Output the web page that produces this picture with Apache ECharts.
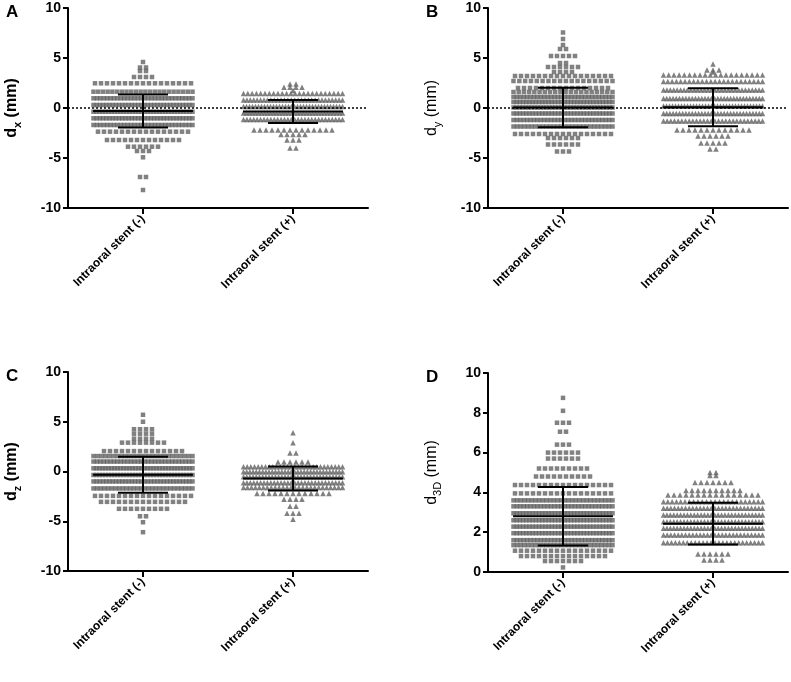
<!DOCTYPE html>
<html>
<head>
<meta charset="utf-8">
<script src="https://cdn.jsdelivr.net/npm/echarts@6/dist/echarts.min.js"></script>
<style>html,body{margin:0;padding:0;background:#fff}</style>
</head>
<body>
<div id="main" style="width:791px;height:682px"></div>
<script>
// groups on every x axis
var groups = ['Intraoral stent (-)', 'Intraoral stent (+)'];

// each group is drawn as rows of points: row value (mm) and number of points in the row
// A: d_x
var aMinusY = [4.6, 4.05, 3.7, 3.1, 2.47, 1.63, 0.97, 0.3, -0.37, -1.03, -1.7, -2.37, -3.2, -3.87, -4.3, -4.93, -6.9, -8.2];
var aMinusN = [1, 2, 2, 4, 17, 22, 30, 32, 34, 32, 30, 16, 13, 6, 3, 1, 2, 1];
var aPlusY = [2.4, 2.07, 1.75, 1.45, 0.8, 0.15, -0.5, -1.15, -2.2, -2.65, -3.2, -4.0];
var aPlusN = [2, 4, 1, 24, 30, 34, 34, 30, 14, 5, 3, 2];
// B: d_y
var bMinusY = [7.55, 6.9, 6.3, 5.9, 5.2, 4.5, 4.1, 3.6, 3.2, 2.7, 2.0, 1.6, 1.1, 0.6, 0.05, -0.55, -1.2, -1.85, -2.6, -3.0, -3.65, -4.35];
var bMinusN = [1, 1, 1, 2, 5, 2, 6, 4, 17, 18, 16, 20, 30, 32, 34, 32, 30, 28, 17, 6, 6, 3];
var bPlusY = [4.4, 3.8, 3.6, 3.3, 2.65, 1.8, 0.95, 0.2, -0.55, -1.3, -2.2, -2.8, -3.5, -4.1];
var bPlusN = [1, 3, 1, 20, 24, 30, 32, 34, 32, 28, 13, 6, 5, 2];
// C: d_z
var cMinusY = [5.7, 5.0, 4.25, 3.8, 3.3, 2.9, 2.05, 1.55, 1.0, 0.32, -0.35, -1.0, -1.7, -2.45, -3.05, -3.75, -4.5, -5.1, -6.1];
var cMinusN = [1, 1, 4, 4, 4, 8, 14, 26, 30, 34, 34, 32, 28, 17, 15, 9, 2, 1, 1];
var cPlusY = [3.9, 2.9, 1.85, 0.95, 0.48, -0.02, -0.52, -1.12, -1.6, -2.2, -2.8, -3.5, -4.2, -4.8];
var cPlusN = [1, 1, 2, 6, 28, 32, 32, 30, 26, 13, 4, 2, 3, 1];
// D: d_3D
var dMinusY = [8.75, 8.1, 7.5, 7.05, 6.4, 6.0, 5.7, 5.2, 4.8, 4.37, 3.95, 3.6, 3.3, 2.95, 2.6, 2.28, 1.95, 1.6, 1.35, 1.07, 0.8, 0.55, 0.23];
var dMinusN = [1, 1, 3, 2, 3, 6, 6, 9, 10, 17, 17, 28, 30, 32, 32, 32, 32, 30, 28, 17, 15, 7, 1];
var dPlusY = [5.0, 4.85, 4.5, 4.1, 3.87, 3.53, 3.2, 2.86, 2.53, 2.2, 1.86, 1.47, 0.9, 0.6];
var dPlusN = [2, 2, 7, 10, 16, 24, 28, 30, 30, 30, 28, 26, 6, 4];

// mean and SD bars: [stent (-), stent (+)]
var aMean = [-0.3, -0.35], aSd = [1.65, 1.15];
var bMean = [0.05, 0.07], bSd = [1.97, 1.9];
var cMean = [-0.33, -0.7], cSd = [1.8, 1.2];
var dMean = [2.8, 2.43], dSd = [1.47, 1.05];

var dotColor = '#626262';
var font = 'Arial, "Liberation Sans", sans-serif';

// lay out each row side by side around the group centre
function swarm(ys, ns, centre) {
  var pts = [];
  for (var r = 0; r < ys.length; r++) {
    var n = ns[r];
    var step = n > 1 ? Math.min(0.04, 0.66 / (n - 1)) : 0;
    for (var i = 0; i < n; i++) {
      pts.push([centre + (i - (n - 1) / 2) * step, ys[r]]);
    }
  }
  return pts;
}

function errorBars(params, api) {
  var x = api.value(0), m = api.value(1), sd = api.value(2);
  var c = api.coord([x, m]);
  var hi = api.coord([x, m + sd]);
  var lo = api.coord([x, m - sd]);
  var mw = api.size([0.333, 0])[0];
  var cw = api.size([0.167, 0])[0];
  var st = {stroke: '#000', lineWidth: 2};
  return {
    type: 'group',
    children: [
      {type: 'line', shape: {x1: c[0] - mw, y1: c[1], x2: c[0] + mw, y2: c[1]}, style: st},
      {type: 'line', shape: {x1: c[0] - cw, y1: hi[1], x2: c[0] + cw, y2: hi[1]}, style: st},
      {type: 'line', shape: {x1: c[0] - cw, y1: lo[1], x2: c[0] + cw, y2: lo[1]}, style: st},
      {type: 'line', shape: {x1: c[0], y1: hi[1], x2: c[0], y2: lo[1]}, style: st}
    ]
  };
}

var panels = [
  {letter: 'A', sub: 'x', bold: true, minus: [aMinusY, aMinusN], plus: [aPlusY, aPlusN], mean: aMean, sd: aSd, min: -10, max: 10, step: 5, zero: true,
   grid: {left: 68, top: 8, width: 300, height: 200}},
  {letter: 'B', sub: 'y', bold: false, minus: [bMinusY, bMinusN], plus: [bPlusY, bPlusN], mean: bMean, sd: bSd, min: -10, max: 10, step: 5, zero: true,
   grid: {left: 488, top: 8, width: 300, height: 200}},
  {letter: 'C', sub: 'z', bold: true, minus: [cMinusY, cMinusN], plus: [cPlusY, cPlusN], mean: cMean, sd: cSd, min: -10, max: 10, step: 5, zero: false,
   grid: {left: 68, top: 372, width: 300, height: 199}},
  {letter: 'D', sub: '3D', bold: false, minus: [dMinusY, dMinusN], plus: [dPlusY, dPlusN], mean: dMean, sd: dSd, min: 0, max: 10, step: 2, zero: false,
   grid: {left: 488, top: 373, width: 300, height: 199}}
];

var grid = [], xAxis = [], yAxis = [], series = [], title = [];

panels.forEach(function (p, k) {
  grid.push(p.grid);
  title.push({
    text: p.letter, left: p.grid.left - 67, top: p.grid.top - 9,
    textStyle: {fontFamily: font, fontWeight: 'bold', fontSize: 17, color: '#000'}
  });
  var w = p.bold ? 'bold' : 'normal';
  xAxis.push({
    gridIndex: k, type: 'value', min: 0, max: 2,
    axisLine: {show: true, onZero: false, lineStyle: {color: '#000', width: 2}},
    axisTick: {show: true, customValues: [0.5, 1.5], length: 6, lineStyle: {color: '#000', width: 2}},
    axisLabel: {
      customValues: [0.5, 1.5], rotate: 45, margin: 9,
      formatter: function (v) { return v < 1 ? groups[0] : groups[1]; },
      fontFamily: font, fontWeight: 'bold', fontSize: 12, color: '#000'
    },
    splitLine: {show: false}
  });
  yAxis.push({
    gridIndex: k, type: 'value', min: p.min, max: p.max, interval: p.step,
    axisLine: {show: true, onZero: false, lineStyle: {color: '#000', width: 2}},
    axisTick: {show: true, length: 5, lineStyle: {color: '#000', width: 2}},
    axisLabel: {fontFamily: font, fontWeight: 'bold', fontSize: 14, color: '#000', margin: 7},
    splitLine: {show: false},
    name: '{m|d}{s|' + p.sub + '}{m| (mm)}',
    nameLocation: 'middle', nameGap: 45,
    nameTextStyle: {
      rich: {
        m: {fontFamily: font, fontWeight: w, fontSize: 16, color: '#000', lineHeight: 22},
        s: {fontFamily: font, fontWeight: w, fontSize: 11, color: '#000', verticalAlign: 'bottom', lineHeight: 22}
      }
    }
  });
  var sq = {
    type: 'scatter', xAxisIndex: k, yAxisIndex: k, symbol: 'rect', symbolSize: 4.5,
    itemStyle: {color: dotColor}, silent: true, z: 2,
    data: swarm(p.minus[0], p.minus[1], 0.5)
  };
  if (p.zero) {
    sq.markLine = {
      silent: true, symbol: 'none', label: {show: false}, z: 3,
      lineStyle: {color: '#000', type: [2, 2], width: 1.5},
      data: [{yAxis: 0}]
    };
  }
  series.push(sq);
  series.push({
    type: 'scatter', xAxisIndex: k, yAxisIndex: k, symbol: 'triangle', symbolSize: 5.5,
    itemStyle: {color: dotColor}, silent: true, z: 2,
    data: swarm(p.plus[0], p.plus[1], 1.5)
  });
  series.push({
    type: 'custom', xAxisIndex: k, yAxisIndex: k, renderItem: errorBars, silent: true, z: 5,
    data: [[0.5, p.mean[0], p.sd[0]], [1.5, p.mean[1], p.sd[1]]]
  });
});

var myChart = echarts.init(document.getElementById('main'));
myChart.setOption({
  animation: false,
  title: title,
  grid: grid,
  xAxis: xAxis,
  yAxis: yAxis,
  series: series
});
</script>
</body>
</html>
